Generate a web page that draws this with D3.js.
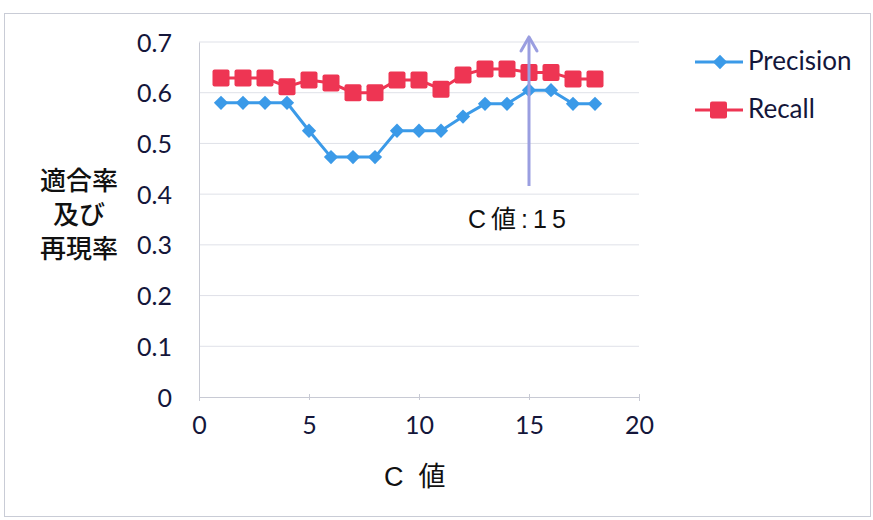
<!DOCTYPE html>
<html>
<head>
<meta charset="utf-8">
<script src="https://cdn.jsdelivr.net/npm/d3@7"></script>
<style>
  html, body { margin: 0; padding: 0; background: #fff; }
  svg { display: block; }
</style>
</head>
<body>
<svg id="chart" width="873" height="520"></svg>
<script>
// C values and the two measured series
const cValues   = [1, 2, 3, 4, 5, 6, 7, 8, 9, 10, 11, 12, 13, 14, 15, 16, 17, 18];
const precision = [0.580, 0.580, 0.580, 0.580, 0.525, 0.473, 0.473, 0.473, 0.525, 0.525, 0.525, 0.553, 0.578, 0.578, 0.605, 0.605, 0.578, 0.578];
const recall    = [0.629, 0.629, 0.629, 0.612, 0.625, 0.619, 0.600, 0.600, 0.625, 0.625, 0.607, 0.635, 0.647, 0.647, 0.640, 0.640, 0.627, 0.627];
const xTicks = [0, 5, 10, 15, 20];
const yTicks = [0, 0.1, 0.2, 0.3, 0.4, 0.5, 0.6, 0.7];
const seriesNames = ["Precision", "Recall"];
const markerC = 15;
const arrowRange = [0.416, 0.71];

const svg = d3.select("#chart");
const tickFont = "Lato, 'Liberation Sans', sans-serif";
const cjkFont = "'Noto Sans CJK JP', sans-serif";
const mixedFont = "'Liberation Sans', 'Noto Sans CJK JP', sans-serif";
const tickColor = "#14163a";

// outer frame
svg.append("rect")
  .attr("x", 4.5).attr("y", 13.5).attr("width", 866).attr("height", 503)
  .attr("fill", "#fff").attr("stroke", "#c9ccd6").attr("stroke-width", 1);

const x = d3.scaleLinear().domain([0, 20]).range([199, 639]);
const y = d3.scaleLinear().domain([0, 0.7]).range([397, 42]);

// horizontal gridlines
svg.append("g")
  .selectAll("line")
  .data(yTicks.filter(d => d > 0))
  .join("line")
  .attr("x1", x(0)).attr("x2", x(20))
  .attr("y1", d => y(d)).attr("y2", d => y(d))
  .attr("stroke", "#dfe1e8").attr("stroke-width", 1);

// x axis
const xAxis = svg.append("g")
  .attr("transform", `translate(0,${y(0)})`)
  .call(d3.axisBottom(x).tickValues(xTicks).tickSize(4).tickFormat(d3.format("d")));
xAxis.select(".domain").attr("stroke", "#c8cad4");
xAxis.selectAll(".tick line").attr("stroke", "#c8cad4").attr("y1", -3).attr("y2", 3);
xAxis.selectAll("text")
  .attr("y", 28).attr("dy", "0.35em")
  .attr("font-family", tickFont).attr("font-size", 25).attr("fill", tickColor);

// y axis
const yAxis = svg.append("g")
  .attr("transform", `translate(${x(0)},0)`)
  .call(d3.axisLeft(y).tickValues(yTicks).tickSize(0).tickPadding(27)
    .tickFormat(d => d === 0 ? "0" : d3.format(".1f")(d)));
yAxis.select(".domain").attr("stroke", "#c8cad4");
yAxis.selectAll("text")
  .attr("dy", "0.36em")
  .attr("font-family", tickFont).attr("font-size", 25).attr("fill", tickColor);

// series lines
const line = d3.line().x(d => x(d[0])).y(d => y(d[1]));
const precData = cValues.map((c, i) => [c, precision[i]]);
const recData = cValues.map((c, i) => [c, recall[i]]);
const blue = "#3b9ae8";
const red = "#ee3553";

svg.append("path").datum(precData).attr("d", line)
  .attr("fill", "none").attr("stroke", blue).attr("stroke-width", 3);
svg.append("path").datum(recData).attr("d", line)
  .attr("fill", "none").attr("stroke", red).attr("stroke-width", 3);

const diamond = d3.symbol().type(d3.symbolDiamond2).size(130);
svg.append("g").selectAll("path").data(precData).join("path")
  .attr("d", diamond)
  .attr("transform", d => `translate(${x(d[0])},${y(d[1])})`)
  .attr("fill", blue);

svg.append("g").selectAll("rect").data(recData).join("rect")
  .attr("x", d => x(d[0]) - 8.5).attr("y", d => y(d[1]) - 8.5)
  .attr("width", 17).attr("height", 17).attr("rx", 2)
  .attr("fill", red);

// annotation arrow at the chosen C value
const arrowColor = "#9a9ee0";
svg.append("line")
  .attr("x1", x(markerC)).attr("x2", x(markerC))
  .attr("y1", y(arrowRange[0])).attr("y2", y(arrowRange[1]) + 2)
  .attr("stroke", arrowColor).attr("stroke-width", 3);
svg.append("path")
  .attr("d", `M${x(markerC) - 8},${y(arrowRange[1]) + 14} L${x(markerC)},${y(arrowRange[1])} L${x(markerC) + 8},${y(arrowRange[1]) + 14}`)
  .attr("fill", "none").attr("stroke", arrowColor).attr("stroke-width", 3)
  .attr("stroke-linejoin", "round").attr("stroke-linecap", "round");

svg.append("text")
  .attr("x", 468).attr("y", 228)
  .attr("font-family", mixedFont).attr("font-size", 25).attr("fill", "#111")
  .attr("letter-spacing", 5)
  .text(`C値:${markerC}`);

// axis titles
const yTitle = ["適合率", "及び", "再現率"];
svg.append("g").selectAll("text").data(yTitle).join("text")
  .attr("x", 79).attr("y", (d, i) => 190 + i * 34)
  .attr("text-anchor", "middle")
  .attr("font-family", cjkFont).attr("font-size", 26).attr("font-weight", 500).attr("fill", "#111")
  .text(d => d);

svg.append("text")
  .attr("x", 384).attr("y", 486)
  .attr("font-family", mixedFont).attr("font-size", 27).attr("fill", "#111")
  .attr("xml:space", "preserve")
  .text("C  値");

// legend
const legend = svg.append("g");
const legendRows = [
  { name: seriesNames[0], color: blue, y: 62, shape: "diamond" },
  { name: seriesNames[1], color: red, y: 110, shape: "square" }
];
legendRows.forEach(r => {
  legend.append("line")
    .attr("x1", 695).attr("x2", 743).attr("y1", r.y).attr("y2", r.y)
    .attr("stroke", r.color).attr("stroke-width", 3);
  if (r.shape === "diamond") {
    legend.append("path").attr("d", diamond)
      .attr("transform", `translate(720,${r.y})`).attr("fill", r.color);
  } else {
    legend.append("rect").attr("x", 710).attr("y", r.y - 8.5)
      .attr("width", 17).attr("height", 17).attr("rx", 2).attr("fill", r.color);
  }
  legend.append("text")
    .attr("x", 748).attr("y", r.y + 8)
    .attr("font-family", tickFont).attr("font-size", 26).attr("fill", tickColor)
    .text(r.name);
});
</script>
</body>
</html>
